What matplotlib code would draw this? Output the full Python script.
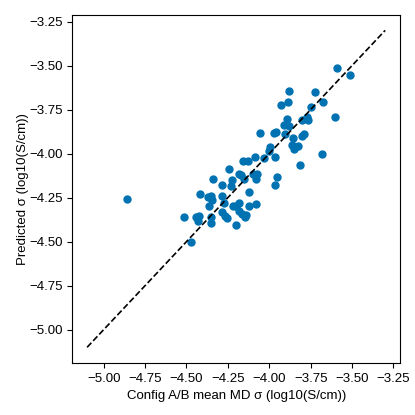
import numpy as np
import matplotlib

matplotlib.use("Agg")
from matplotlib import pyplot as plt

plt.rcParams['font.family'] = ['Liberation Sans', 'DejaVu Sans']
plt.rcParams['font.size'] = 9.5

# config A/B mean MD conductivity vs predicted (log10 S/cm)
md_sigma = [
    -4.862, -4.513, -4.473, -4.443, -4.427, -4.433, -4.417, -4.363, -4.367, -4.353,
    -4.347, -4.353, -4.351, -4.341, -4.287, -4.287, -4.283, -4.271, -4.269, -4.253,
    -4.243, -4.233, -4.223, -4.221, -4.203, -4.199, -4.185, -4.183, -4.181, -4.171,
    -4.167, -4.161, -4.151, -4.147, -4.143, -4.131, -4.123, -4.123, -4.097, -4.089,
    -4.083, -4.083, -4.071, -4.056, -4.034, -4.000, -3.994, -3.974, -3.968, -3.966,
    -3.958, -3.952, -3.930, -3.912, -3.904, -3.890, -3.888, -3.880, -3.878, -3.864,
    -3.858, -3.852, -3.844, -3.824, -3.814, -3.804, -3.804, -3.788, -3.774, -3.768,
    -3.748, -3.724, -3.684, -3.676, -3.604, -3.592, -3.512,
]
pred_sigma = [
    -4.260, -4.362, -4.501, -4.359, -4.355, -4.381, -4.232, -4.296, -4.245, -4.241,
    -4.264, -4.359, -4.395, -4.145, -4.177, -4.241, -4.332, -4.283, -4.355, -4.364,
    -4.090, -4.185, -4.152, -4.296, -4.406, -4.296, -4.325, -4.113, -4.281, -4.124,
    -4.344, -4.041, -4.143, -4.359, -4.349, -4.041, -4.219, -4.300, -4.113, -4.018,
    -4.147, -4.289, -4.113, -3.885, -4.024, -3.986, -3.965, -3.882, -4.177, -4.018,
    -3.878, -4.135, -3.726, -3.838, -3.889, -3.804, -3.708, -3.844, -3.645, -3.952,
    -3.910, -3.976, -3.965, -3.957, -4.063, -3.810, -3.899, -3.887, -3.791, -3.810,
    -3.734, -3.649, -4.003, -3.706, -3.793, -3.516, -3.556,
]
parity = [-5.1, -3.3]

fig = plt.figure(figsize=(4.15, 4.15), dpi=100)
ax = fig.add_axes([0.174, 0.125, 0.79, 0.84])
ax.scatter(md_sigma, pred_sigma, s=25, color='#0072B2')
ax.plot(parity, parity, 'k--', lw=1.2)
ax.set_xlabel('Config A/B mean MD σ (log10(S/cm))')
ax.set_ylabel('Predicted σ (log10(S/cm))', labelpad=0)
ax.set_xticks(np.arange(-5.0, -3.2, 0.25))
ax.set_yticks(np.arange(-5.0, -3.2, 0.25))

fig.savefig('out.png', dpi=100)
